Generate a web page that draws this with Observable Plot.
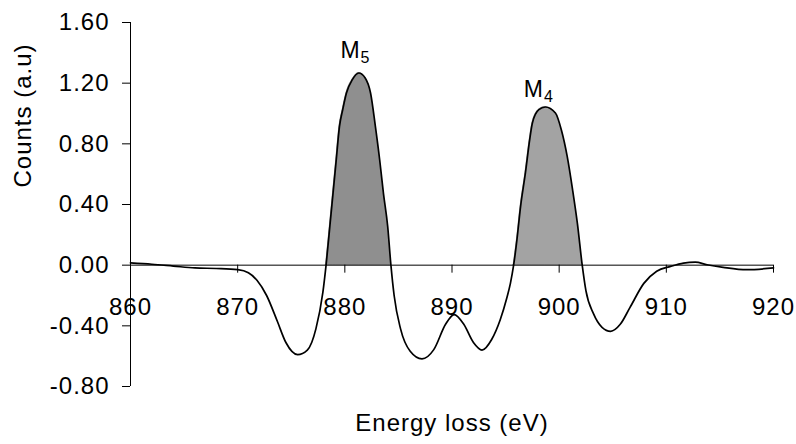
<!DOCTYPE html>
<html>
<head>
<meta charset="utf-8">
<script src="https://cdn.jsdelivr.net/npm/d3@7"></script>
<script src="https://cdn.jsdelivr.net/npm/@observablehq/plot@0.6"></script>
<style>
  html, body { margin: 0; padding: 0; background: #fff; }
  svg text { letter-spacing: 1px; }
</style>
</head>
<body>
<div id="chart"></div>
<script>
// Energy loss (eV)
const energy = [860, 862, 864, 866, 868, 870, 871, 871.8, 872.7, 873.7, 874.5, 875.6, 876.5, 877.3, 877.95,
  878.25, 878.6, 878.9, 879.2, 879.5, 879.8, 880.15, 880.7, 881.3, 881.9, 882.4, 882.85, 883.25, 883.6, 884.0, 884.3,
  884.6, 885.2, 886.1, 887.2, 888.3, 889.4, 890.2, 891.1, 892.0, 892.8, 893.7, 894.5, 895.1, 895.45,
  895.75, 896.06, 896.4, 896.85, 897.25, 897.5, 898.1, 898.7, 899.65, 900.2, 900.75, 901.25, 901.7, 902.15,
  902.5, 903.2, 904.0, 904.8, 905.7, 906.6, 907.9, 909.1, 910.4, 911.6, 912.7, 913.8, 915.3, 917.5, 920];
// Counts (a.u)
const counts = [0.015, 0.006, -0.006, -0.018, -0.022, -0.03, -0.05, -0.1, -0.2, -0.37, -0.51, -0.59, -0.56, -0.42, -0.18,
  0, 0.255, 0.475, 0.695, 0.915, 1.025, 1.135, 1.223, 1.267, 1.234, 1.135, 0.915, 0.695, 0.475, 0.255, 0,
  -0.2, -0.42, -0.568, -0.618, -0.557, -0.39, -0.326, -0.39, -0.51, -0.56, -0.49, -0.36, -0.22, -0.12,
  0, 0.168, 0.388, 0.608, 0.827, 0.937, 1.025, 1.043, 1.003, 0.893, 0.717, 0.498, 0.275, 0,
  -0.17, -0.32, -0.41, -0.436, -0.39, -0.28, -0.12, -0.04, -0.008, 0.014, 0.02, 0.003, -0.014, -0.03, -0.018];

// Peak regions (shaded) and labels
const peakNames = ["M", "M"];
const peakSubs = ["5", "4"];
const peakStart = [878.25, 895.75];
const peakEnd = [884.3, 902.15];
const peakLabelX = [881.1, 898.2];
const peakLabelY = [1.368, 1.11];
const peakFills = ["#8f8f8f", "#a3a3a3"];

const xTicks = [860, 870, 880, 890, 900, 910, 920];
const yTicks = [-0.8, -0.4, 0, 0.4, 0.8, 1.2, 1.6];

const data = energy.map((e, i) => ({e, c: counts[i]}));
const labels = peakNames.map((n, i) => ({n, s: peakSubs[i], x: peakLabelX[i], y: peakLabelY[i]}));

const font = "'Liberation Sans', Arial, Helvetica, sans-serif";

const areas = peakStart.map((s, i) =>
  Plot.areaY(data, {
    filter: d => d.e >= s && d.e <= peakEnd[i],
    x: "e", y: d => Math.max(0, d.c), fill: peakFills[i], stroke: peakFills[i], strokeWidth: 1,
    curve: "monotone-x"
  })
);

const chart = Plot.plot({
  width: 796,
  height: 444,
  marginLeft: 130,
  marginRight: 23,
  marginTop: 22,
  marginBottom: 58,
  style: {fontFamily: font, color: "#000", background: "#fff"},
  x: {domain: [860, 920], axis: null},
  y: {domain: [-0.8, 1.6]},
  marks: [
    ...areas,
    Plot.ruleY([0], {stroke: "#000", strokeWidth: 1}),
    Plot.ruleX(xTicks.slice(1), {x: d => d, y1: 0, y2: 0, insetBottom: -8, stroke: "#000", strokeWidth: 1}),
    Plot.text(xTicks, {x: d => d, y: 0, text: d => String(d), dy: 42, fontSize: 24, fill: "#000", textAnchor: "middle"}),
    Plot.ruleX([860], {stroke: "#000", strokeWidth: 1}),
    Plot.axisY(yTicks, {tickFormat: d => d.toFixed(2), tickSize: 8, tickPadding: 13, fontSize: 24, label: null, stroke: "#000", fill: "#000"}),
    Plot.lineY(data, {x: "e", y: "c", stroke: "#000", strokeWidth: 1.7, curve: "monotone-x"}),
    Plot.text(labels, {x: "x", y: "y", text: "n", textAnchor: "end", lineAnchor: "bottom", dx: 4, fontSize: 23, fill: "#000"}),
    Plot.text(labels, {x: "x", y: "y", text: "s", textAnchor: "start", lineAnchor: "bottom", dx: 4, dy: 5, fontSize: 16, fill: "#000"}),
    Plot.text(["Counts (a.u)"], {frameAnchor: "left", rotate: -90, dx: -107, dy: -17, fontSize: 24, fill: "#000"}),
    Plot.text(["Energy loss (eV)"], {frameAnchor: "bottom", dy: 44, fontSize: 24, fill: "#000"})
  ]
});
document.getElementById("chart").appendChild(chart);
</script>
</body>
</html>
